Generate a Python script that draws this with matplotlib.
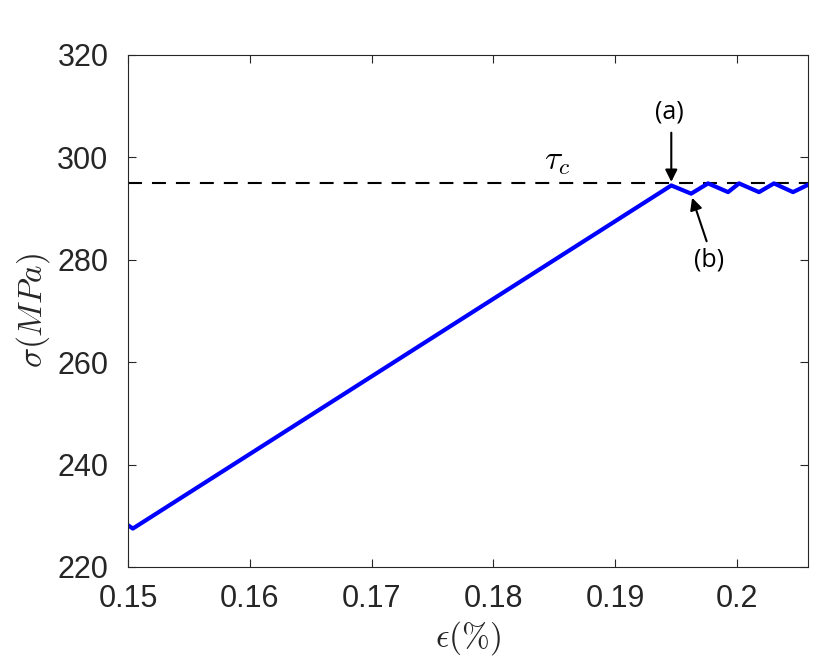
import matplotlib
matplotlib.use('Agg')
import matplotlib.pyplot as plt

# strain (%) and stress (MPa)
strain = [0.1501, 0.1504, 0.1946, 0.19623, 0.19762, 0.19926, 0.20016,
          0.2018, 0.20303, 0.20459, 0.2058]
stress = [228.0, 227.5, 294.5, 292.9, 294.9, 293.2, 294.9,
          293.2, 294.9, 293.2, 294.6]
tau_c = 295.0

xticks = [0.15, 0.16, 0.17, 0.18, 0.19, 0.2]
xticklabels = ['0.15', '0.16', '0.17', '0.18', '0.19', '0.2']
yticks = [220, 240, 260, 280, 300, 320]

plt.rcParams['font.family'] = ['Liberation Sans', 'DejaVu Sans']
plt.rcParams['mathtext.fontset'] = 'cm'

fig = plt.figure(figsize=(8.31, 6.69), dpi=100)
ax = fig.add_axes([0.154, 0.1525, 0.818, 0.7655])

ax.axhline(tau_c, color='black', lw=1.5, ls=(0, (6.7, 4.8)))
ax.plot(strain, stress, color=(0, 0, 1), lw=3.0, solid_joinstyle='round')

ax.set_xlim(0.15, 0.2058)
ax.set_ylim(220, 320)
ax.set_xticks(xticks)
ax.set_xticklabels(xticklabels)
ax.set_yticks(yticks)

grey = '#262626'
for s in ax.spines.values():
    s.set_color(grey)
    s.set_linewidth(0.8)
ax.tick_params(direction='in', top=True, right=True, length=6, width=0.8,
               color=grey, labelcolor=grey, labelsize=22)
ax.tick_params(axis='x', pad=12)
ax.tick_params(axis='y', pad=14)

ax.set_xlabel(r'$\epsilon(\%)$', fontsize=24, color=grey, labelpad=4)
ax.set_ylabel(r'$\sigma(MPa)$', fontsize=24, color=grey, labelpad=4)

ax.text(0.1852, 296.2, r'$\tau_c$', fontsize=24, ha='center', va='bottom')

ann = dict(fontsize=18, ha='center', va='center', family=['Open Sans', 'DejaVu Sans'])
arr = dict(arrowstyle='-|>', color='black', lw=1.5, mutation_scale=18,
           shrinkA=0, shrinkB=0)
ax.text(0.19443, 308.9, '(a)', **ann)
ax.annotate('', xy=(0.1946, 295.2), xytext=(0.1946, 304.8), arrowprops=arr)
ax.text(0.1977, 280.0, '(b)', **ann)
ax.annotate('', xy=(0.19631, 292.1), xytext=(0.19750, 283.6), arrowprops=arr)

fig.savefig('out.png', dpi=100)
